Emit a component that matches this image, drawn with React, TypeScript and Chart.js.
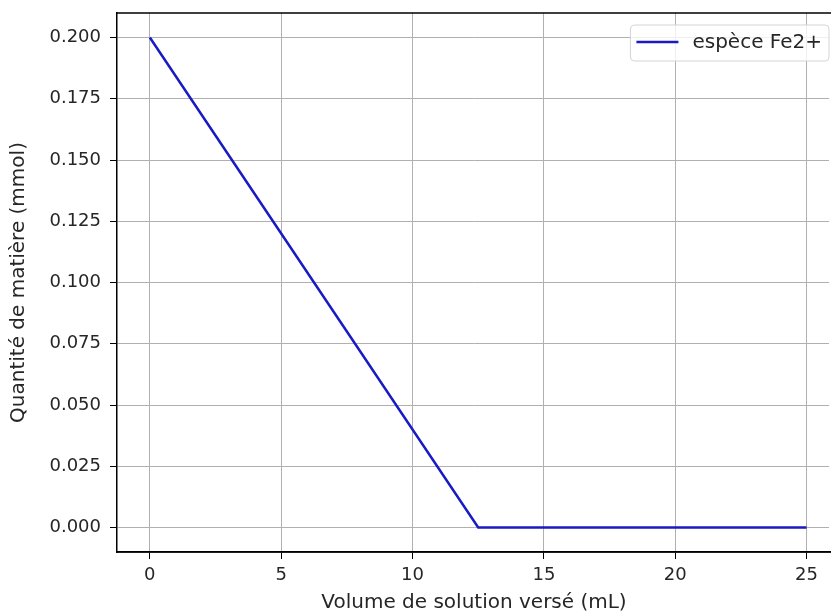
import React, { useEffect, useRef } from 'react';
import { Chart, registerables } from 'chart.js';

Chart.register(...registerables);

const volumes = [0, 12.5, 25];
const fe2Amounts = [0.2, 0, 0];
const xTicks = [0, 5, 10, 15, 20, 25];
const yTicks = [0, 0.025, 0.05, 0.075, 0.1, 0.125, 0.15, 0.175, 0.2];
const seriesLabel = 'espèce Fe2+';
const xTitle = 'Volume de solution versé (mL)';
const yTitle = 'Quantité de matière (mmol)';
// visible x window (the right spine of the original figure lies just past the image edge)
const xRange = [-1.25, 25.93];
const yRange = [-0.01, 0.21];

const FONT = '"DejaVu Sans", sans-serif';
const LINE_COLOR = '#1a1ac4';
const TEXT_COLOR = '#262626';
const GRID = '#b0b0b0';
const NONE = 'rgba(0,0,0,0)';

const gridColor = (list: number[], c: string) => (ctx: any) =>
  ctx && ctx.tick && list.includes(ctx.tick.value) ? c : NONE;

const mplPlugin = {
  id: 'mplDecor',
  beforeDatasetsDraw(chart: any) {
    const ctx = chart.ctx;
    const a = chart.chartArea;
    ctx.save();
    ctx.fillStyle = '#fff';
    ctx.fillRect(a.right - 2, a.top + 1, 2, a.bottom - a.top - 2);
    ctx.restore();
  },
  afterDraw(chart: any) {
    const ctx = chart.ctx;
    const a = chart.chartArea;
    ctx.save();
    // top and bottom spines
    ctx.strokeStyle = '#000';
    ctx.lineWidth = 1.5;
    ctx.beginPath();
    ctx.moveTo(a.left - 0.75, a.top);
    ctx.lineTo(a.right, a.top);
    ctx.moveTo(a.left, a.bottom);
    ctx.lineTo(a.right, a.bottom);
    ctx.stroke();
    // legend
    const label = chart.data.datasets[0].label;
    ctx.font = '20px ' + FONT;
    const tw = ctx.measureText(label).width;
    const right = 829;
    const top = a.top + 12;
    const h = 36;
    const w = 62 + tw + 7;
    const left = right - w;
    const r = 4;
    ctx.beginPath();
    ctx.moveTo(left + r, top);
    ctx.lineTo(right - r, top);
    ctx.arcTo(right, top, right, top + r, r);
    ctx.lineTo(right, top + h - r);
    ctx.arcTo(right, top + h, right - r, top + h, r);
    ctx.lineTo(left + r, top + h);
    ctx.arcTo(left, top + h, left, top + h - r, r);
    ctx.lineTo(left, top + r);
    ctx.arcTo(left, top, left + r, top, r);
    ctx.closePath();
    ctx.fillStyle = 'rgba(255,255,255,0.8)';
    ctx.fill();
    ctx.strokeStyle = '#d4d4d4';
    ctx.lineWidth = 1;
    ctx.stroke();
    ctx.beginPath();
    ctx.moveTo(left + 6, top + h / 2 - 1);
    ctx.lineTo(left + 48, top + h / 2 - 1);
    ctx.strokeStyle = LINE_COLOR;
    ctx.lineWidth = 2.5;
    ctx.stroke();
    ctx.fillStyle = TEXT_COLOR;
    ctx.textBaseline = 'middle';
    ctx.textAlign = 'left';
    ctx.fillText(label, left + 62, top + h / 2);
    ctx.restore();
  },
};

export default function App() {
  const ref = useRef<HTMLCanvasElement | null>(null);
  useEffect(() => {
    if (!ref.current) return;
    const chart = new Chart(ref.current, {
      type: 'line',
      data: {
        datasets: [
          {
            label: seriesLabel,
            data: volumes.map((v, i) => ({ x: v, y: fe2Amounts[i] })),
            borderColor: LINE_COLOR,
            borderWidth: 2.5,
            pointRadius: 0,
            tension: 0,
            fill: false,
          },
        ],
      },
      options: {
        animation: false,
        responsive: false,
        devicePixelRatio: 1,
        layout: { padding: { left: 0, top: 13, right: 0, bottom: 0 } },
        plugins: { legend: { display: false }, tooltip: { enabled: false } },
        scales: {
          x: {
            type: 'linear',
            min: xRange[0],
            max: xRange[1],
            afterBuildTicks: (s: any) => {
              s.ticks = xTicks.map((value) => ({ value }));
            },
            afterFit: (s: any) => {
              s.height = 60;
              s.paddingLeft = 0;
              s.paddingRight = 0;
              s.paddingTop = 0;
              s.paddingBottom = 0;
            },
            grid: {
              color: gridColor(xTicks, GRID),
              lineWidth: 1,
              tickColor: gridColor(xTicks, '#000'),
              tickLength: 7,
              tickWidth: 1,
            },
            border: { color: '#000', width: 1.5 },
            ticks: {
              color: TEXT_COLOR,
              font: { family: FONT, size: 18 },
              padding: 6,
              maxRotation: 0,
              callback: (v: any) => String(v),
            },
            title: {
              display: true,
              text: xTitle,
              color: TEXT_COLOR,
              font: { family: FONT, size: 20 },
              padding: { top: 0, bottom: -3 },
            },
          },
          y: {
            type: 'linear',
            min: yRange[0],
            max: yRange[1],
            afterBuildTicks: (s: any) => {
              s.ticks = yTicks.map((value) => ({ value }));
            },
            afterFit: (s: any) => {
              s.width = 117;
              s.paddingLeft = 0;
              s.paddingRight = 0;
              s.paddingTop = 0;
              s.paddingBottom = 0;
            },
            grid: {
              color: gridColor(yTicks, GRID),
              lineWidth: 1,
              tickColor: gridColor(yTicks, '#000'),
              tickLength: 7,
              tickWidth: 1,
            },
            border: { color: '#000', width: 1.5 },
            ticks: {
              color: TEXT_COLOR,
              font: { family: FONT, size: 18 },
              padding: 9,
              callback: (v: any) => Number(v).toFixed(3),
            },
            title: {
              display: true,
              text: yTitle,
              color: TEXT_COLOR,
              font: { family: FONT, size: 20 },
              padding: { top: 7, bottom: 0 },
            },
          },
        },
      },
      plugins: [mplPlugin],
    });
    return () => chart.destroy();
  }, []);
  return (
    <div
      style={{
        position: 'fixed',
        left: 0,
        top: 0,
        width: 831,
        height: 612,
        overflow: 'hidden',
        background: '#fff',
      }}
    >
      <canvas ref={ref} width={831} height={612} style={{ display: 'block' }} />
    </div>
  );
}
